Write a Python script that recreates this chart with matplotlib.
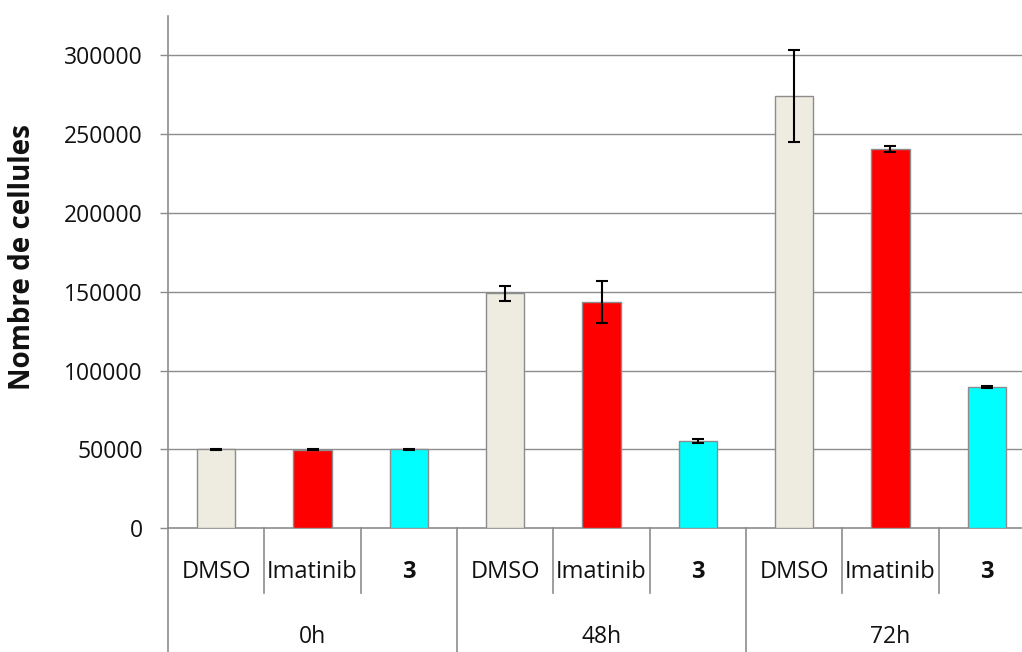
import matplotlib
matplotlib.use("Agg")
import matplotlib.pyplot as plt
from matplotlib.transforms import blended_transform_factory

# --- data -------------------------------------------------------------
groups = ["0h", "48h", "72h"]
treatments = ["DMSO", "Imatinib", "3"]
dmso = [50000, 149000, 274000]
dmso_err = [300, 4700, 29400]
imatinib = [49800, 143500, 240500]
imatinib_err = [300, 13100, 1900]
cmpd3 = [50000, 55500, 89500]
cmpd3_err = [300, 1400, 600]
yticks = [0, 50000, 100000, 150000, 200000, 250000, 300000]
ylabel = "Nombre de cellules"

colors = ["#EEECE1", "#FF0000", "#00FFFF"]
series = [(dmso, dmso_err), (imatinib, imatinib_err), (cmpd3, cmpd3_err)]

plt.rcParams["font.family"] = ["Open Sans", "DejaVu Sans"]
grey = "#8C8C8C"
txt = "#111111"

W, H, DPI = 10.22, 6.52, 100
fig = plt.figure(figsize=(W, H), dpi=DPI)

# axes geometry in pixels
left_px, right_px = 168, 1035
bottom_px, top_px = 528.4, 15.5
ax = fig.add_axes([left_px / (W * DPI), (H * DPI - bottom_px) / (H * DPI),
                   (right_px - left_px) / (W * DPI), (bottom_px - top_px) / (H * DPI)])
ax_h_px = bottom_px - top_px
ax_w_px = right_px - left_px

n_t = len(treatments)
for gi in range(len(groups)):
    for ti, (vals, errs) in enumerate(series):
        x = gi * n_t + ti
        ax.bar(x, vals[gi], width=0.4, color=colors[ti], edgecolor=grey,
               linewidth=1.0, zorder=3)
        ax.errorbar(x, vals[gi], yerr=errs[gi], fmt="none", ecolor="black",
                    elinewidth=1.5, capsize=4.5, capthick=1.5, zorder=4)

n_slots = len(groups) * n_t
ax.set_xlim(-0.5, n_slots - 0.5)
ax.set_ylim(0, 325000)
ax.set_yticks(yticks)
ax.set_yticklabels([str(v) for v in yticks], fontsize=16.5, color=txt)
ax.tick_params(axis="y", length=6, width=1.0, color=grey, pad=12, direction="out")
ax.set_xticks([])
for yv in yticks[1:]:
    ax.axhline(yv, color=grey, linewidth=1.0, zorder=1)

for s in ["top", "right"]:
    ax.spines[s].set_visible(False)
ax.spines["left"].set_color(grey)
ax.spines["left"].set_linewidth(1.2)
ax.spines["bottom"].set_color(grey)
ax.spines["bottom"].set_linewidth(1.2)

ax.set_ylabel(ylabel, fontsize=20, fontweight="bold", color=txt)
ax.yaxis.set_label_coords((23 - left_px) / ax_w_px, (bottom_px - 257) / ax_h_px)
ax.yaxis.label.set_va("center")

# two-level category axis drawn below the plot area
trans = blended_transform_factory(ax.transData, ax.transAxes)
def ya(px_below):
    return -px_below / ax_h_px

for k in range(n_slots + 1):
    xb = k - 0.5
    depth = 140 if k % n_t == 0 else 65
    ax.plot([xb, xb], [0, ya(depth)], color=grey, lw=1.2, transform=trans,
            clip_on=False)

for gi, g in enumerate(groups):
    for ti, t in enumerate(treatments):
        x = gi * n_t + ti
        ax.text(x, ya(44), t, transform=trans, ha="center", va="center",
                fontsize=17, color=txt,
                fontweight="bold" if t == "3" else "normal")
    ax.text(gi * n_t + (n_t - 1) / 2, ya(109), g, transform=trans,
            ha="center", va="center", fontsize=16.5, color=txt)

fig.savefig("out.png", dpi=DPI)
